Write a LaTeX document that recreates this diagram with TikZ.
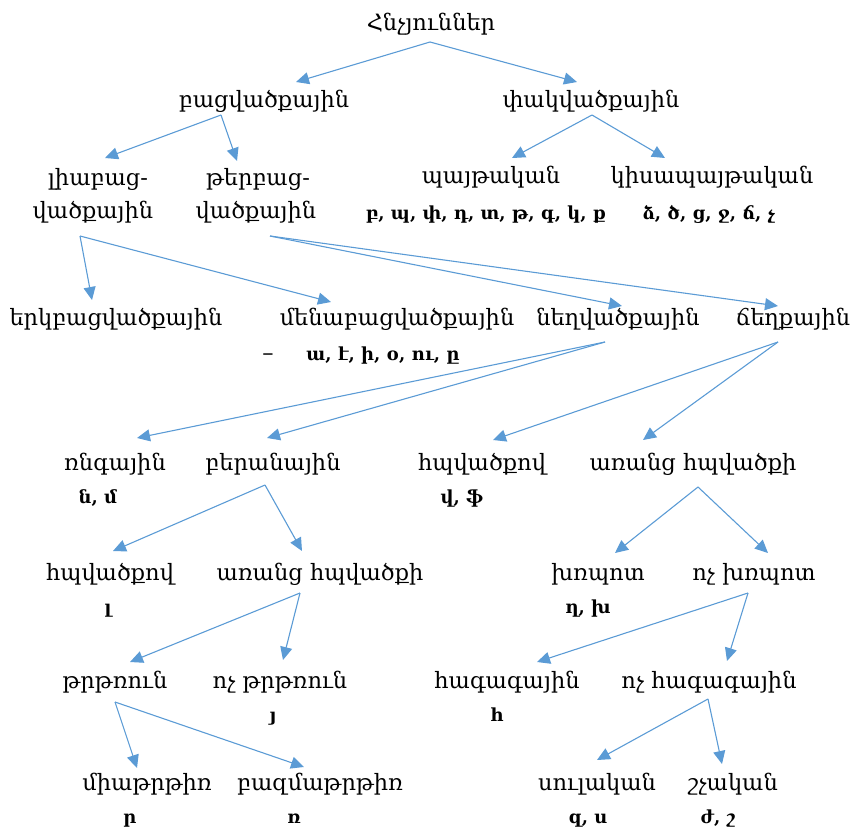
\documentclass[tikz,border=0pt]{standalone}
\usepackage{fontspec}
\setmainfont{DejaVu Serif}
\usetikzlibrary{arrows.meta,calc}
\definecolor{arrblue}{RGB}{91,155,213}
\tikzset{
  lbl/.style={inner sep=0pt, anchor=base, font=\fontsize{22.5}{27}\selectfont},
  bl/.style={inner sep=0pt, anchor=base, font=\fontsize{18}{22}\selectfont\bfseries},
  arr/.style={draw=arrblue, line width=1.1pt, -{Triangle[length=13pt,width=12pt]}}
}
\begin{document}
\begin{tikzpicture}[x=1pt,y=-1pt]
\useasboundingbox (0,0) rectangle (855,833);
% row 0
\node[lbl] (root) at (431,30) {Հնչյուններ};
% row 1
\node[lbl] (bac) at (264,107) {բացվածքային};
\node[lbl] (pak) at (591,107) {փակվածքային};
% row 2
\node[lbl] (liaA) at (98,185) {լիաբաց-};
\node[lbl] (liaB) at (93,218) {վածքային};
\node[lbl] (terA) at (258,185) {թերբաց-};
\node[lbl] (terB) at (256,218) {վածքային};
\node[lbl] (payt) at (491,183) {պայթական};
\node[bl] (paytL) at (486,219) {բ, պ, փ, դ, տ, թ, գ, կ, ք};
\node[lbl] (kis) at (712,183) {կիսապայթական};
\node[bl] (kisL) at (709,219) {ձ, ծ, ց, ջ, ճ, չ};
% row 3
\node[lbl] (erk) at (116,325) {երկբացվածքային};
\node[lbl] (men) at (397,325) {մենաբացվածքային};
\node[lbl] (dash) at (268,360) {–};
\node[bl] (menL) at (383,360) {ա, է, ի, օ, ու, ը};
\node[lbl] (negh) at (618,325) {նեղվածքային};
\node[lbl] (chegh) at (793,325) {ճեղքային};
% row 4
\node[lbl] (rng) at (115,470) {ռնգային};
\node[bl] (rngL) at (98,503) {ն, մ};
\node[lbl] (ber) at (273,470) {բերանային};
\node[lbl] (hpR) at (482,470) {հպվածքով};
\node[bl] (hpRL) at (462,503) {վ, ֆ};
\node[lbl] (aranR) at (693,470) {առանց հպվածքի};
% row 5
\node[lbl] (hpL) at (110,580) {հպվածքով};
\node[bl] (hpLL) at (108,613) {լ};
\node[lbl] (aranL) at (320,580) {առանց հպվածքի};
\node[lbl] (khr) at (598,580) {խռպոտ};
\node[bl] (khrL) at (588,613) {ղ, խ};
\node[lbl] (vochkhr) at (754,580) {ոչ խռպոտ};
% row 6
\node[lbl] (trt) at (115,688) {թրթռուն};
\node[lbl] (vochtrt) at (280,688) {ոչ թրթռուն};
\node[bl] (vochtrtL) at (273,721) {յ};
\node[lbl] (hag) at (507,688) {հագագային};
\node[bl] (hagL) at (497,721) {հ};
\node[lbl] (vochhag) at (709,688) {ոչ հագագային};
% row 7
\node[lbl] (mia) at (147,790) {միաթրթիռ};
\node[bl] (miaL) at (130,823) {ր};
\node[lbl] (bazm) at (320,790) {բազմաթրթիռ};
\node[bl] (bazmL) at (294,823) {ռ};
\node[lbl] (sul) at (597,790) {սուլական};
\node[bl] (sulL) at (588,823) {զ, ս};
\node[lbl] (shch) at (733,790) {շչական};
\node[bl] (shchL) at (718,823) {ժ, շ};
% connectors
\draw[arr] ($(root.base)+(-1,12)$) -- ($(bac.base)+(32,-25)$);
\draw[arr] ($(root.base)+(-1,12)$) -- ($(pak.base)+(-14,-25)$);
\draw[arr] ($(bac.base)+(-43,8)$) -- ($(liaA.base)+(7,-27)$);
\draw[arr] ($(bac.base)+(-43,8)$) -- ($(terA.base)+(-21,-24)$);
\draw[arr] ($(pak.base)+(1,8)$) -- ($(payt.base)+(21,-25)$);
\draw[arr] ($(pak.base)+(1,8)$) -- ($(kis.base)+(-47,-25)$);
\draw[arr] ($(liaB.base)+(-13,18)$) -- ($(erk.base)+(-24,-25)$);
\draw[arr] ($(liaB.base)+(-13,18)$) -- ($(men.base)+(-66,-23)$);
\draw[arr] ($(terB.base)+(14,18)$) -- ($(negh.base)+(4,-19)$);
\draw[arr] ($(terB.base)+(14,18)$) -- ($(chegh.base)+(-15,-19)$);
\draw[arr] ($(negh.base)+(-13,17)$) -- ($(rng.base)+(22,-32)$);
\draw[arr] ($(negh.base)+(-13,17)$) -- ($(ber.base)+(-6,-32)$);
\draw[arr] ($(chegh.base)+(-15,17)$) -- ($(hpR.base)+(11,-30)$);
\draw[arr] ($(chegh.base)+(-15,17)$) -- ($(aranR.base)+(-50,-30)$);
\draw[arr] ($(ber.base)+(-8,15)$) -- ($(hpL.base)+(3,-29)$);
\draw[arr] ($(ber.base)+(-8,15)$) -- ($(aranL.base)+(-18,-29)$);
\draw[arr] ($(aranR.base)+(5,17)$) -- ($(khr.base)+(17,-27)$);
\draw[arr] ($(aranR.base)+(5,17)$) -- ($(vochkhr.base)+(14,-27)$);
\draw[arr] ($(aranL.base)+(-20,13)$) -- ($(trt.base)+(15,-26)$);
\draw[arr] ($(aranL.base)+(-20,13)$) -- ($(vochtrt.base)+(3,-28)$);
\draw[arr] ($(vochkhr.base)+(-6,13)$) -- ($(hag.base)+(30,-26)$);
\draw[arr] ($(vochkhr.base)+(-6,13)$) -- ($(vochhag.base)+(18,-27)$);
\draw[arr] ($(trt.base)+(0,14)$) -- ($(mia.base)+(-10,-22)$);
\draw[arr] ($(trt.base)+(0,14)$) -- ($(bazm.base)+(-16,-23)$);
\draw[arr] ($(vochhag.base)+(-1,11)$) -- ($(sul.base)+(0,-30)$);
\draw[arr] ($(vochhag.base)+(-1,11)$) -- ($(shch.base)+(-11,-26)$);
\end{tikzpicture}
\end{document}
